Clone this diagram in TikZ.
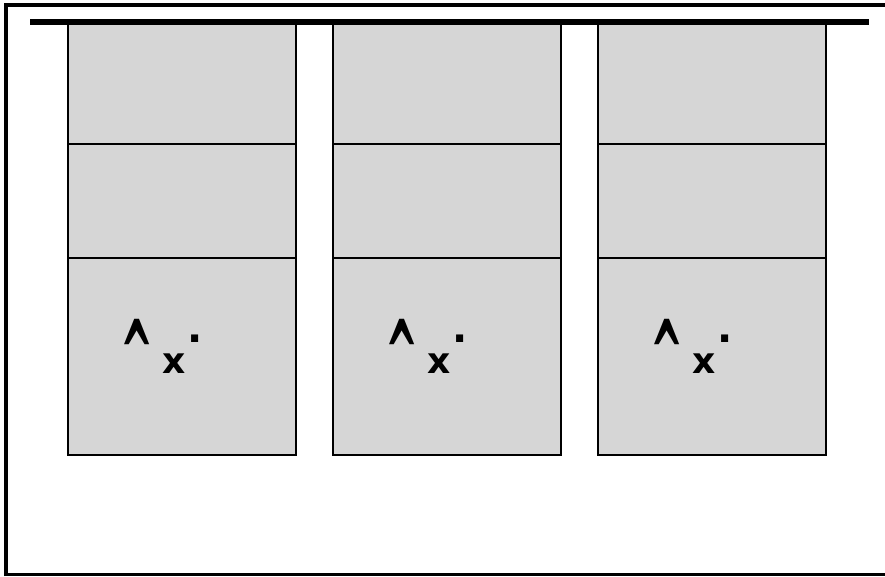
\documentclass[tikz,border=0pt]{standalone}
\usepackage{fontspec}
\usepackage{graphicx}
\newfontfamily\markfont{DejaVu Sans}[BoldFont={DejaVu Sans Bold}]

\tikzset{
  cell/.style={draw, fill=black!16, line width=2.5pt, inner sep=0pt, outer sep=0pt,
    minimum width=228pt, anchor=north},
  glyph/.style={inner sep=0pt, font=\markfont\bfseries\fontsize{36}{42}\selectfont}
}

\begin{document}
\begin{tikzpicture}[x=1pt,y=-1pt]
\useasboundingbox (0,0) rectangle (885,576);

% frame
\draw[line width=4pt] (6,576) -- (6,4.5) -- (885,4.5);
\draw[line width=3pt] (6,574.5) -- (885,574.5);

% three columns
\foreach \c/\x in {a/182,b/447,c/712}{
  \node[cell, minimum height=120pt] (\c1) at (\x,24) {};
  \node[cell, minimum height=114pt] (\c2) at (\c1.south) {};
  \node[cell, minimum height=197pt] (\c3) at (\c2.south) {};
  \node[glyph, anchor=north] (\c hat) at ([xshift=-45pt]\c3.north |- 0,319) {\scalebox{1.1}[2.6]{\textasciicircum}};
  \node[glyph] (\c x) at ([xshift=-8pt]\c3.north |- 0,364) {x};
  \node[glyph, font=\markfont\bfseries\fontsize{40}{44}\selectfont] (\c dot) at ([xshift=13pt]\c3.north |- 0,339) {.};
}

% top bar
\draw[line width=6pt] (30,21.5) -- (869,21.5);
\end{tikzpicture}
\end{document}
